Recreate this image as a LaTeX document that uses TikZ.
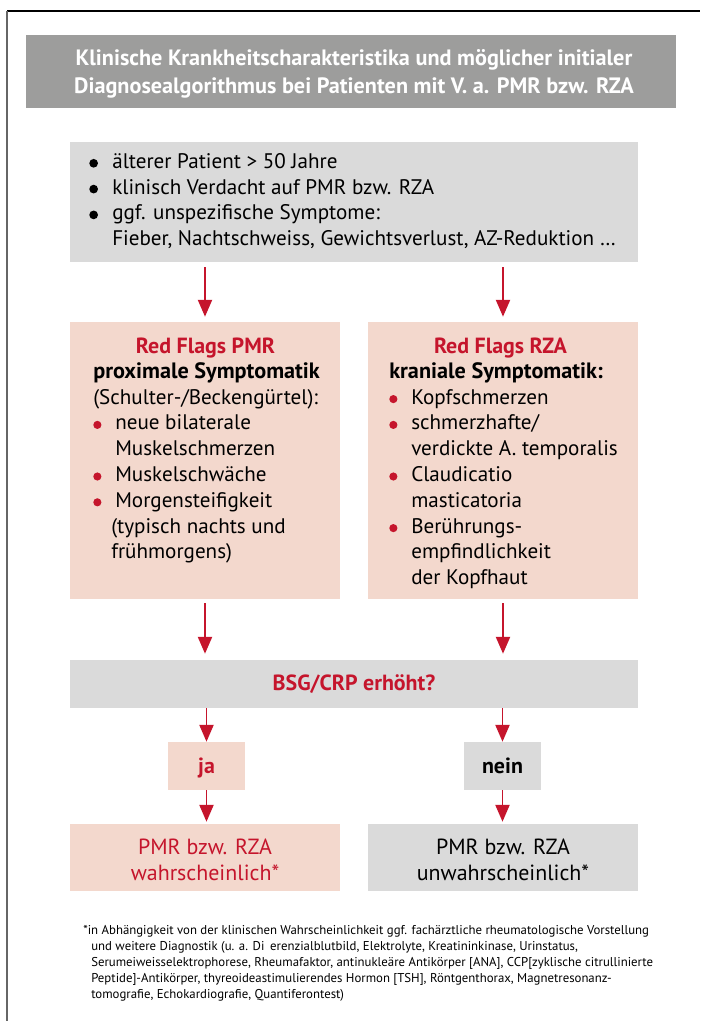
\documentclass[tikz,border=0pt]{standalone}
\usepackage{fontspec}
\setmainfont{PT Sans}
\usetikzlibrary{arrows.meta}
\usetikzlibrary{positioning}

\definecolor{rzared}{HTML}{C5152C}
\definecolor{boxgray}{HTML}{DADADA}
\definecolor{headgray}{HTML}{9D9D9C}
\definecolor{flagpink}{HTML}{F3D8CD}

\newcommand{\rdot}{\makebox[0.55cm][l]{\tikz[baseline=-3.6pt]\fill[rzared] (0,0) circle (2.9pt);}}
\newcommand{\bdot}{\makebox[0.575cm][l]{\tikz[baseline=-3.6pt]\fill[black] (0,0) circle (3.1pt);}}

\tikzset{
  graybox/.style={fill=boxgray, draw=none, inner sep=0pt},
  pinkbox/.style={fill=flagpink, draw=none, inner sep=0pt},
  bodytext/.style={inner sep=0pt, align=left, anchor=north west, font=\fontsize{15}{18.35}\selectfont},
  headtext/.style={inner sep=0pt, anchor=base, text=rzared, font=\bfseries\fontsize{15.6}{18.35}\selectfont},
  redarrow/.style={draw=rzared, line width=1.4pt, -{Triangle[width=0.35cm,length=0.42cm]}},
}

\begin{document}
\begin{tikzpicture}[x=0.025cm, y=-0.025cm]

\useasboundingbox (0,0) rectangle (700,1021);

% frame
\draw[black, line width=1pt] (7,11) -- (700,11);
\draw[black!60, line width=1pt] (7,11) -- (7,1021);

% title bar
\node[fill=headgray, inner sep=0pt, minimum width=16.25cm, minimum height=1.825cm] (title) at (351,71.5) {};
\node[inner sep=0pt, anchor=north, align=center, text=white, font=\bfseries\fontsize{15.8}{19.9}\selectfont] (titletxt) at (354,45.4)
  {\strut Klinische Krankheitscharakteristika und möglicher initialer\\ Diagnosealgorithmus bei Patienten mit V. a. PMR bzw. RZA};

% first box
\node[graybox, minimum width=14.2cm, minimum height=3cm] (intro) at (354,202) {};
\node[bodytext] (introtxt) at (89,150)
  {\strut\bdot älterer Patient > 50 Jahre\\ \bdot klinisch Verdacht auf PMR bzw. RZA\\ \bdot ggf. unspezifische Symptome:\\ \hspace*{0.575cm}Fieber, Nachtschweiss, Gewichtsverlust, AZ-Reduktion …};

% red flags
\node[pinkbox, minimum width=6.75cm, minimum height=6.925cm] (pmr) at (205,460.5) {};
\node[headtext] (pmrhead) at (205.5,353) {Red Flags PMR};
\node[bodytext] (pmrtxt) at (93,360)
  {\strut{\bfseries\fontsize{15.8}{18.35}\selectfont proximale Symptomatik}\\ (Schulter-/Beckengürtel):\\ \rdot neue bilaterale\\ \hspace*{0.55cm}Muskelschmerzen\\ \rdot Muskelschwäche\\ \rdot Morgensteifigkeit\\ \hspace*{0.45cm}(typisch nachts und\\ \hspace*{0.45cm}frühmorgens)};

\node[pinkbox, minimum width=6.75cm, minimum height=6.925cm] (rza) at (503,460.5) {};
\node[headtext] (rzahead) at (500.5,353) {Red Flags RZA};
\node[bodytext] (rzatxt) at (389,360)
  {\strut{\bfseries\fontsize{15.8}{18.35}\selectfont kraniale Symptomatik:}\\ \rdot Kopfschmerzen\\ \rdot schmerzhafte/\\ \hspace*{0.55cm}verdickte A. temporalis\\ \rdot Claudicatio\\ \hspace*{0.55cm}masticatoria\\ \rdot Berührungs-\\ \hspace*{0.55cm}empfindlichkeit\\ \hspace*{0.55cm}der Kopfhaut};

% question
\node[graybox, minimum width=14.2cm, minimum height=1.2cm] (bsg) at (354,684) {};
\node[headtext] (bsgtxt) at (354,690) {BSG/CRP erhöht?};

\node[pinkbox, minimum width=1.925cm, minimum height=1.2cm] (ja) at (206.5,766) {};
\node[headtext] (jatxt) at (206.5,773) {ja};
\node[graybox, minimum width=1.925cm, minimum height=1.2cm] (nein) at (502.5,766) {};
\node[headtext, text=black] (neintxt) at (502.5,773) {nein};

% results
\node[pinkbox, minimum width=6.75cm, minimum height=1.675cm] (likely) at (205,857.5) {};
\node[bodytext, anchor=north, align=center, text=rzared, font=\fontsize{15.6}{18.35}\selectfont] (likelytxt) at (205,836) {\strut PMR bzw. RZA\\ wahrscheinlich*};
\node[graybox, minimum width=6.75cm, minimum height=1.675cm] (unlikely) at (503,857.5) {};
\node[bodytext, anchor=north, align=center, font=\fontsize{15.6}{18.35}\selectfont] (unlikelytxt) at (503,836) {\strut PMR bzw. RZA\\ unwahrscheinlich*};

% arrows
\draw[redarrow, shorten <=0.125cm, shorten >=0.125cm] (intro.south -| pmr.north) -- (pmr.north);
\draw[redarrow, shorten <=0.125cm, shorten >=0.125cm] (intro.south -| rza.north) -- (rza.north);
\draw[redarrow, shorten <=0.1cm, shorten >=0.15cm] (pmr.south) -- (bsg.north -| pmr.south);
\draw[redarrow, shorten <=0.1cm, shorten >=0.15cm] (rza.south) -- (bsg.north -| rza.south);
\draw[redarrow] (bsg.south -| ja.north) -- (ja.north);
\draw[redarrow] (bsg.south -| nein.north) -- (nein.north);
\draw[redarrow, shorten >=0.05cm] (ja.south) -- (likely.north -| ja.south);
\draw[redarrow, shorten >=0.05cm] (nein.south) -- (unlikely.north -| nein.south);

% footnote
\node[inner sep=0pt, anchor=north west, align=left, font=\fontsize{9.1}{11.38}\selectfont] (note) at (83,923)
  {\strut*in Abhängigkeit von der klinischen Wahrscheinlichkeit ggf. fachärztliche rheumatologische Vorstellung\\
   \hspace*{0.2cm}und weitere Diagnostik (u. a. Di\hspace{0.45em}erenzialblutbild, Elektrolyte, Kreatininkinase, Urinstatus,\\
   \hspace*{0.2cm}Serumeiweisselektrophorese, Rheumafaktor, antinukleäre Antikörper [ANA], CCP[zyklische citrullinierte\\
   \hspace*{0.2cm}Peptide]-Antikörper, thyreoideastimulierendes Hormon [TSH], Röntgenthorax, Magnetresonanz-\\
   \hspace*{0.2cm}tomografie, Echokardiografie, Quantiferontest)};

\end{tikzpicture}
\end{document}
